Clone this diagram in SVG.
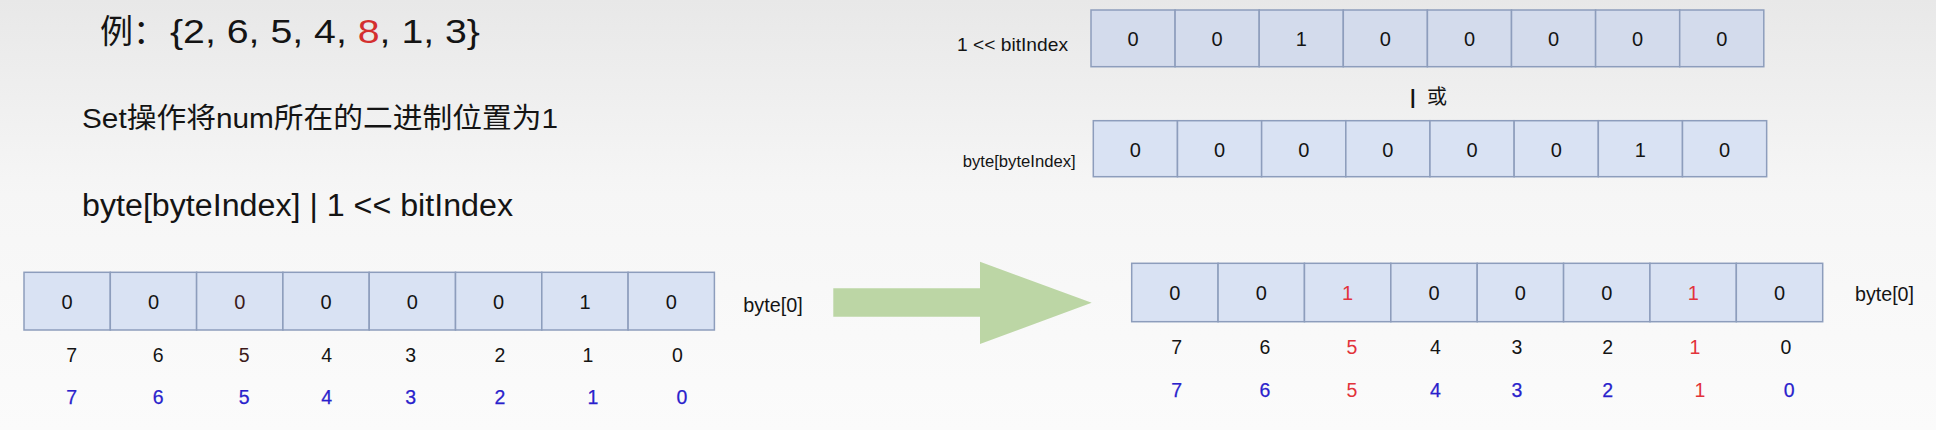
<svg xmlns="http://www.w3.org/2000/svg" width="1936" height="430" viewBox="0 0 1936 430">
<defs>
<linearGradient id="bg" x1="0" y1="0" x2="0" y2="1">
<stop offset="0" stop-color="#e8e8e8"/>
<stop offset="0.45" stop-color="#f6f6f6"/>
<stop offset="1" stop-color="#fbfbfb"/>
</linearGradient>
</defs>
<style>
text { font-family: "Liberation Sans", Arial, "Noto Sans CJK SC", sans-serif; fill: #141414; }
.cell { fill: #d9e2f3; stroke: #8d9dbc; stroke-width: 1.5; }
.cellg { fill: #d3dbec; stroke: #8d9dbc; stroke-width: 1.5; }
.v { font-size: 20px; text-anchor: middle; }
.idx { font-size: 19.5px; text-anchor: middle; }
.blue { fill: #2a1fcc; stroke: #2a1fcc; stroke-width: 0.25; }
.red { fill: #e2333b; }
.redb { fill: #e2333b; stroke: none; }
.mar { fill: #3d1a1a; }
.lbl { font-size: 19.5px; }
.arrow { fill: #bcd6a5; }
</style>
<rect x="0" y="0" width="1936" height="430" fill="url(#bg)"/>

<g id="title">
<text x="100" y="43" font-size="33" textLength="66" lengthAdjust="spacingAndGlyphs">例：</text>
<text x="170" y="43" font-size="33" textLength="310" lengthAdjust="spacingAndGlyphs">{2, 6, 5, 4, <tspan fill="#d42f2f">8</tspan>, 1, 3}</text>
</g>

<g id="description">
<text x="82" y="128" font-size="28.5" textLength="476" lengthAdjust="spacingAndGlyphs">Set操作将num所在的二进制位置为1</text>
</g>

<g id="formula">
<text x="82" y="216" font-size="31" textLength="431" lengthAdjust="spacingAndGlyphs">byte[byteIndex] | 1 &lt;&lt; bitIndex</text>
</g>

<g id="shift-array">
<text x="957" y="50.7" font-size="19" textLength="111" lengthAdjust="spacingAndGlyphs">1 &lt;&lt; bitIndex</text>
<rect class="cellg" x="1091" y="10" width="84.1" height="56.7"/>
<rect class="cellg" x="1175.1" y="10" width="84.1" height="56.7"/>
<rect class="cellg" x="1259.2" y="10" width="84.1" height="56.7"/>
<rect class="cellg" x="1343.3" y="10" width="84.1" height="56.7"/>
<rect class="cellg" x="1427.4" y="10" width="84.1" height="56.7"/>
<rect class="cellg" x="1511.5" y="10" width="84.1" height="56.7"/>
<rect class="cellg" x="1595.6" y="10" width="84.1" height="56.7"/>
<rect class="cellg" x="1679.7" y="10" width="84.1" height="56.7"/>
<text class="v" x="1133.05" y="45.5">0</text>
<text class="v" x="1217.15" y="45.5">0</text>
<text class="v" x="1301.25" y="45.5">1</text>
<text class="v" x="1385.35" y="45.5">0</text>
<text class="v" x="1469.45" y="45.5">0</text>
<text class="v" x="1553.55" y="45.5">0</text>
<text class="v" x="1637.65" y="45.5">0</text>
<text class="v" x="1721.75" y="45.5">0</text>
</g>

<g id="or-label">
<text x="1410" y="104" font-size="20" font-weight="bold">|</text>
<text x="1427" y="104" font-size="20">或</text>
</g>

<g id="byteindex-array">
<text x="962.7" y="166.7" font-size="16.5" textLength="113" lengthAdjust="spacingAndGlyphs">byte[byteIndex]</text>
<rect class="cell" x="1093.3" y="120.7" width="84.17" height="56"/>
<rect class="cell" x="1177.47" y="120.7" width="84.17" height="56"/>
<rect class="cell" x="1261.64" y="120.7" width="84.17" height="56"/>
<rect class="cell" x="1345.81" y="120.7" width="84.17" height="56"/>
<rect class="cell" x="1429.98" y="120.7" width="84.17" height="56"/>
<rect class="cell" x="1514.15" y="120.7" width="84.17" height="56"/>
<rect class="cell" x="1598.32" y="120.7" width="84.17" height="56"/>
<rect class="cell" x="1682.49" y="120.7" width="84.17" height="56"/>
<text class="v" x="1135.4" y="156.5">0</text>
<text class="v" x="1219.55" y="156.5">0</text>
<text class="v" x="1303.7" y="156.5">0</text>
<text class="v" x="1387.9" y="156.5">0</text>
<text class="v" x="1472.1" y="156.5">0</text>
<text class="v" x="1556.2" y="156.5">0</text>
<text class="v" x="1640.4" y="156.5">1</text>
<text class="v" x="1724.6" y="156.5">0</text>
</g>

<g id="before-array">
<rect class="cell" x="24" y="272.3" width="86.3" height="57.7"/>
<rect class="cell" x="110.3" y="272.3" width="86.3" height="57.7"/>
<rect class="cell" x="196.6" y="272.3" width="86.3" height="57.7"/>
<rect class="cell" x="282.9" y="272.3" width="86.3" height="57.7"/>
<rect class="cell" x="369.2" y="272.3" width="86.3" height="57.7"/>
<rect class="cell" x="455.5" y="272.3" width="86.3" height="57.7"/>
<rect class="cell" x="541.8" y="272.3" width="86.3" height="57.7"/>
<rect class="cell" x="628.1" y="272.3" width="86.3" height="57.7"/>
<text class="v" x="67.15" y="308.8">0</text>
<text class="v" x="153.45" y="308.8">0</text>
<text class="v mar" x="239.75" y="308.8">0</text>
<text class="v" x="326.05" y="308.8">0</text>
<text class="v" x="412.35" y="308.8">0</text>
<text class="v" x="498.65" y="308.8">0</text>
<text class="v" x="584.95" y="308.8">1</text>
<text class="v" x="671.25" y="308.8">0</text>
<text class="lbl" x="743.3" y="311.7" textLength="59.4" lengthAdjust="spacingAndGlyphs">byte[0]</text>
<text class="idx" x="71.7" y="362">7</text>
<text class="idx" x="158.3" y="362">6</text>
<text class="idx mar" x="244.3" y="362">5</text>
<text class="idx" x="326.7" y="362">4</text>
<text class="idx" x="410.7" y="362">3</text>
<text class="idx" x="500" y="362">2</text>
<text class="idx" x="588" y="362">1</text>
<text class="idx" x="677.5" y="362">0</text>
<text class="idx blue" x="71.7" y="404">7</text>
<text class="idx blue" x="158.3" y="404">6</text>
<text class="idx blue" x="244.3" y="404">5</text>
<text class="idx blue" x="326.7" y="404">4</text>
<text class="idx blue" x="410.7" y="404">3</text>
<text class="idx blue" x="500" y="404">2</text>
<text class="idx blue" x="593" y="404">1</text>
<text class="idx blue" x="682" y="404">0</text>
</g>

<g id="connectors">
<polygon class="arrow" points="833.3,288.3 980,288.3 980,261.7 1091.7,302.7 980,344 980,316.7 833.3,316.7"/>
</g>

<g id="after-array">
<rect class="cell" x="1131.7" y="263.3" width="86.375" height="58.4"/>
<rect class="cell" x="1218.075" y="263.3" width="86.375" height="58.4"/>
<rect class="cell" x="1304.45" y="263.3" width="86.375" height="58.4"/>
<rect class="cell" x="1390.825" y="263.3" width="86.375" height="58.4"/>
<rect class="cell" x="1477.2" y="263.3" width="86.375" height="58.4"/>
<rect class="cell" x="1563.575" y="263.3" width="86.375" height="58.4"/>
<rect class="cell" x="1649.95" y="263.3" width="86.375" height="58.4"/>
<rect class="cell" x="1736.325" y="263.3" width="86.375" height="58.4"/>
<text class="v" x="1174.9" y="299.8">0</text>
<text class="v" x="1261.3" y="299.8">0</text>
<text class="v red" x="1347.6" y="299.8">1</text>
<text class="v" x="1434" y="299.8">0</text>
<text class="v" x="1520.4" y="299.8">0</text>
<text class="v" x="1606.8" y="299.8">0</text>
<text class="v red" x="1693.2" y="299.8">1</text>
<text class="v" x="1779.5" y="299.8">0</text>
<text class="lbl" x="1855" y="301" textLength="59" lengthAdjust="spacingAndGlyphs">byte[0]</text>
<text class="idx" x="1176.8" y="353.6">7</text>
<text class="idx" x="1265" y="353.6">6</text>
<text class="idx red" x="1352" y="353.6">5</text>
<text class="idx" x="1435.5" y="353.6">4</text>
<text class="idx" x="1517" y="353.6">3</text>
<text class="idx" x="1607.7" y="353.6">2</text>
<text class="idx red" x="1695" y="353.6">1</text>
<text class="idx" x="1786" y="353.6">0</text>
<text class="idx blue" x="1176.8" y="397">7</text>
<text class="idx blue" x="1265" y="397">6</text>
<text class="idx redb" x="1352" y="397">5</text>
<text class="idx blue" x="1435.5" y="397">4</text>
<text class="idx blue" x="1517" y="397">3</text>
<text class="idx blue" x="1607.7" y="397">2</text>
<text class="idx redb" x="1700" y="397">1</text>
<text class="idx blue" x="1789.3" y="397">0</text>
</g>
</svg>
